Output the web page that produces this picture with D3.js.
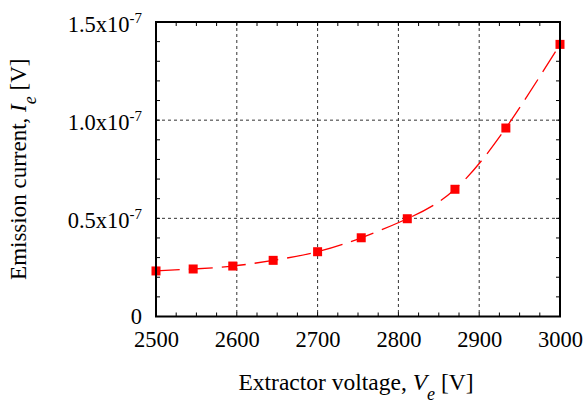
<!DOCTYPE html>
<html>
<head>
<meta charset="utf-8">
<script src="https://cdn.jsdelivr.net/npm/d3@7"></script>
<style>
  body { margin: 0; background: #fff; }
  svg { font-family: "Liberation Serif", "DejaVu Serif", serif; }
</style>
</head>
<body>
<div id="chart"></div>
<script>
// extractor voltage [V] and emission current
const voltage = [2500, 2546, 2595, 2645, 2700, 2754, 2811, 2870, 2933, 3000];
const current = [2.32e-8, 2.42e-8, 2.57e-8, 2.86e-8, 3.30e-8, 4.01e-8, 4.98e-8, 6.48e-8, 9.60e-8, 1.386e-7];

const xTicks = [2500, 2600, 2700, 2800, 2900, 3000];
const yTicks = [0, 0.5e-7, 1.0e-7, 1.5e-7];
const yTickLabels = ["0", "0.5x10", "1.0x10", "1.5x10"];

document.addEventListener('DOMContentLoaded', () => {
  let W = 584, H = 403;
  let m = {left: 156, right: 24, top: 22, bottom: 86.5};
  let w = W - m.left - m.right, h = H - m.top - m.bottom;

  let svg = d3.select("#chart").append("svg").attr("width", W).attr("height", H);
  let g = svg.append("g").attr("transform", `translate(${m.left},${m.top})`);

  let x = d3.scaleLinear().domain([2500, 3000]).range([0, w]);
  let y = d3.scaleLinear().domain([0, 1.5e-7]).range([h, 0]);

  let xMinor = d3.range(2500, 3001, 25);
  let yMinor = d3.range(0, 16).map(d => d * 1e-8);

  // grid
  g.selectAll("line.gx").data(xTicks.slice(1, -1)).enter().append("line")
    .attr("x1", d => x(d)).attr("x2", d => x(d)).attr("y1", 0).attr("y2", h)
    .style("stroke", "#333").style("stroke-width", 1).style("stroke-dasharray", "3,3");
  g.selectAll("line.gy").data(yTicks.slice(1, -1)).enter().append("line")
    .attr("y1", d => y(d)).attr("y2", d => y(d)).attr("x1", 0).attr("x2", w)
    .style("stroke", "#333").style("stroke-width", 1).style("stroke-dasharray", "3,3");

  // minor ticks, all four sides
  let tk = g.append("g").style("stroke", "#000").style("stroke-width", 1);
  xMinor.forEach(d => {
    tk.append("line").attr("x1", x(d)).attr("x2", x(d)).attr("y1", h).attr("y2", h - 4);
    tk.append("line").attr("x1", x(d)).attr("x2", x(d)).attr("y1", 0).attr("y2", 4);
  });
  yMinor.forEach(d => {
    tk.append("line").attr("y1", y(d)).attr("y2", y(d)).attr("x1", 0).attr("x2", 4);
    tk.append("line").attr("y1", y(d)).attr("y2", y(d)).attr("x1", w).attr("x2", w - 4);
  });

  // curve + markers
  let line = d3.line().x((d, i) => x(voltage[i])).y(d => y(d)).curve(d3.curveNatural);
  g.append("path").datum(current).attr("d", line)
    .style("fill", "none").style("stroke", "#f00").style("stroke-width", 1.3)
    .style("stroke-dasharray", "24,9");
  g.selectAll("rect.pt").data(current).enter().append("rect")
    .attr("x", (d, i) => x(voltage[i]) - 4.5).attr("y", d => y(d) - 4.5)
    .attr("width", 9).attr("height", 9).style("fill", "#f00");

  // frame
  g.append("rect").attr("width", w).attr("height", h)
    .style("fill", "none").style("stroke", "#000").style("stroke-width", 2);

  // x axis labels
  let xAxis = d3.axisBottom(x).tickValues(xTicks).tickSize(0).tickPadding(0).tickFormat(d3.format("d"));
  let xa = g.append("g").attr("transform", `translate(0,${h})`).call(xAxis);
  xa.select(".domain").remove();
  xa.selectAll("text").attr("dy", null).attr("y", 30)
    .style("font-size", "22.5px").style("font-family", "Liberation Serif").style("fill", "#000");

  // y axis labels with superscripts
  let yAxis = d3.axisLeft(y).tickValues(yTicks).tickSize(0).tickPadding(0).tickFormat("");
  let ya = g.append("g").call(yAxis);
  ya.select(".domain").remove();
  ya.selectAll(".tick").each(function(d, i) {
    let t = d3.select(this).select("text")
      .attr("x", -14).attr("dy", null).attr("y", i == 0 ? 7 : 9)
      .attr("text-anchor", "end")
      .style("font-size", "22.5px").style("font-family", "Liberation Serif").style("fill", "#000");
    t.append("tspan").text(yTickLabels[i]);
    if (i > 0) {
      t.append("tspan").attr("dy", -9).style("font-size", "15px").text("-7");
    }
  });

  // axis titles
  let xt = svg.append("text").attr("x", m.left + w / 2 - 2).attr("y", 390)
    .attr("text-anchor", "middle").style("font-size", "23.5px");
  xt.append("tspan").text("Extractor voltage, ");
  xt.append("tspan").style("font-style", "italic").text("V");
  xt.append("tspan").attr("dy", 10).style("font-size", "18px").style("font-style", "italic").text("e");
  xt.append("tspan").attr("dy", -10).text(" [V]");

  let yt = svg.append("text").attr("transform", `translate(26,${m.top + h / 2}) rotate(-90)`)
    .attr("text-anchor", "middle").style("font-size", "23px");
  yt.append("tspan").text("Emission current, ");
  yt.append("tspan").style("font-style", "italic").text("I");
  yt.append("tspan").attr("dy", 10).style("font-size", "18px").style("font-style", "italic").text("e");
  yt.append("tspan").attr("dy", -10).text(" [V]");
});
</script>
</body>
</html>
